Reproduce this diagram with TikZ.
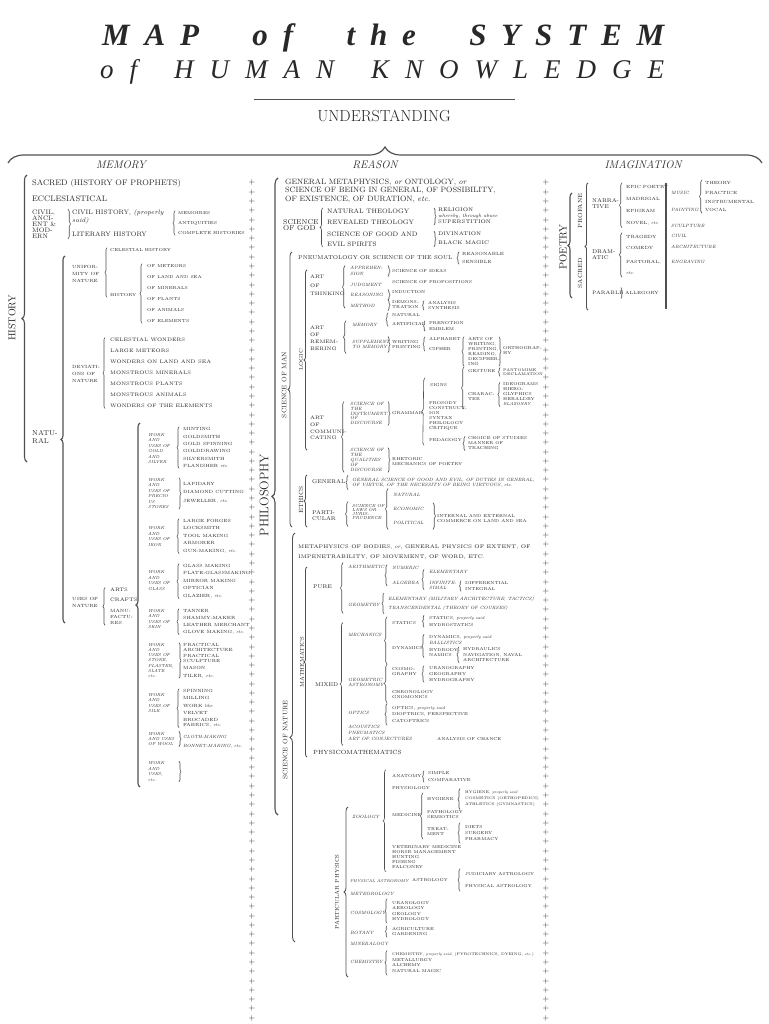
\documentclass[tikz,border=0pt]{standalone}
\usepackage{fontspec}
\usepackage{tikz}
\usetikzlibrary{decorations.pathreplacing}
\newfontfamily\ttlfont{Liberation Serif}
\definecolor{ink}{RGB}{40,40,40}
\definecolor{brgray}{RGB}{80,80,80}
\newcommand\lsp{\hskip 0pt plus 1fil\relax}
\newcommand\wsp{\hskip 0pt plus 3.6fil\relax}
\newcommand\wsq{\hskip 0pt plus 2.3fil\relax}

\tikzset{
  txt/.style={anchor=west, inner xsep=0pt, inner ysep=0.5pt, align=left, text=ink},
  brc/.style={draw=brgray, line width=0.6pt, decorate, decoration={brace, amplitude=#1}},
  brc/.default=2pt,
  bigbrc/.style={draw=brgray, line width=1.1pt, decorate, decoration={brace, amplitude=#1}},
  bigbrc/.default=5pt,
  vt/.style={rotate=90, inner sep=0pt, text=ink},
  crs/.style={inner sep=0pt, text=ink, font=\fontsize{8}{8}\selectfont},
  head/.style={inner sep=0pt, text=ink, font=\fontsize{11}{11}\selectfont\itshape\addfontfeature{LetterSpace=30}},
  % memory
  m1/.style={txt, font=\fontsize{8}{8.5}\selectfont\addfontfeature{LetterSpace=6}},
  m2/.style={txt, font=\fontsize{6.5}{6}\selectfont},
  mi/.style={txt, font=\fontsize{5}{6}\selectfont\addfontfeature{LetterSpace=15}},
  mt/.style={txt, font=\fontsize{4.3}{6}\selectfont\addfontfeature{LetterSpace=12}},
  sp/.style={txt, font=\fontsize{4.5}{5}\selectfont\addfontfeature{LetterSpace=10}},
  ms/.style={txt, font=\fontsize{4.5}{7}\selectfont},
  mw/.style={txt, font=\fontsize{4.3}{5.4}\selectfont\itshape},
  % reason
  r1/.style={txt, font=\fontsize{7.7}{8.5}\selectfont},
  r2/.style={txt, font=\fontsize{6.5}{9.5}\selectfont\addfontfeature{LetterSpace=20}},
  r3/.style={txt, font=\fontsize{5.2}{6}\selectfont},
  rl/.style={txt, font=\fontsize{5}{8.5}\selectfont},
  ri/.style={txt, font=\fontsize{4.2}{5}\selectfont},
  rit/.style={txt, font=\fontsize{4.6}{5}\selectfont\itshape},
  % imagination
  iit/.style={txt, font=\fontsize{4.6}{5}\selectfont\itshape}
}

\begin{document}
\begin{tikzpicture}[x=1pt, y=-1pt]
\useasboundingbox[fill=white] (0,0) rectangle (768,1024);

% title
\node[inner sep=0pt, anchor=base west, text=ink, font=\ttlfont\fontsize{31}{31}\selectfont\bfseries\itshape] (ttl) at (102,46)
  {\makebox[562pt][s]{M\lsp A\lsp P\wsp o\lsp f\wsp t\lsp h\lsp e\wsp S\lsp Y\lsp S\lsp T\lsp E\lsp M}};
\node[inner sep=0pt, anchor=base west, text=ink, font=\ttlfont\fontsize{27}{27}\selectfont\itshape] (sub) at (100,79)
  {\makebox[564pt][s]{o\lsp f\wsq H\lsp U\lsp M\lsp A\lsp N\wsq K\lsp N\lsp O\lsp W\lsp L\lsp E\lsp D\lsp G\lsp E}};
\coordinate (ruleL) at (254,99);
\coordinate (ruleR) at (515,99);
\draw[brgray, line width=0.8pt] (ruleL) -- (ruleR);
\node[inner sep=0pt, text=ink, font=\fontsize{16}{16}\selectfont\addfontfeature{LetterSpace=18}] (und) at (384,116) {UNDERSTANDING};
\coordinate (topL) at (8,163);
\coordinate (topR) at (762,163);
\draw[bigbrc=16pt, line width=1.2pt] (topL) -- (topR);
\node[head] (memh) at (121,165) {MEMORY};
\node[head] (reah) at (375,165) {REASON};
\node[head] (imah) at (643,165) {IMAGINATION};

% rows of crosses
\foreach \k in {0,...,90}{
  \node[crs] (xl\k) at (252,183+9.28*\k) {+};
  \node[crs] (xr\k) at (546,183+9.28*\k) {+};
}

% ---------------- memory
\node[vt, font=\fontsize{10}{10}\selectfont\addfontfeature{LetterSpace=10}] (hist) at (12,318) {HISTORY};
\coordinate (hisT) at (27,175);
\coordinate (hisB) at (27,462);
\draw[bigbrc=5pt] (hisB) -- (hisT);
\node[m1] (sacr) at (32,184) {SACRED (HISTORY OF PROPHETS)};
\node[m1] (eccl) at (32,199) {ECCLESIASTICAL};
\node[m2] (civ) at (32,224) {CIVIL,\\ANCI-\\ENT \&\\MOD-\\ERN};
\node[m2, font=\fontsize{6.5}{8}\selectfont] (chis) at (72,217) {CIVIL HISTORY, \textit{(properly}\\\textit{said)}};
\node[m2] (lith) at (72,234) {LITERARY HISTORY};
\draw[brc=2.5pt] ([xshift=-4pt]civ.north -| chis.west) -- ([xshift=-4pt]civ.south -| chis.west);
\node[mt] (memo) at (178,213) {MEMOIRES};
\node[mt] (anti) at (178,223) {ANTIQUITIES};
\node[mt] (cmph) at (178,233) {COMPLETE HISTORIES};
\draw[brc] ([xshift=-3pt]cmph.south west) -- ([xshift=-3pt]memo.north west);

\node[m2, font=\fontsize{7}{7.5}\selectfont] (natu) at (32,437) {NATU-\\RAL};
\coordinate (natT) at (65,256);
\coordinate (natB) at (65,623);
\draw[bigbrc=4pt] (natB) -- (natT);

\node[ms] (unif) at (72,274) {UNIFOR-\\MITY OF\\NATURE};
\node[mt] (celh) at (110,250) {CELESTIAL HISTORY};
\node[mt] (nhis) at (110,295) {HISTORY};
\draw[brc] ([xshift=-3pt]nhis.south west) -- ([xshift=-3pt]celh.north west);
\foreach \t [count=\i] in {OF METEORS, OF LAND AND SEA, OF MINERALS, OF PLANTS, OF ANIMALS, OF ELEMENTS}
  \node[mt] (of\i) at (147,255+11*\i) {\t};
\draw[brc] ([xshift=-5pt]of6.south west) -- ([xshift=-5pt]of1.north west);

\node[ms] (devi) at (72,374) {DEVIATI-\\ONS OF\\NATURE};
\foreach \t [count=\i] in {CELESTIAL WONDERS, LARGE METEORS, WONDERS ON LAND AND SEA, MONSTROUS MINERALS, MONSTROUS PLANTS, MONSTROUS ANIMALS, WONDERS OF THE ELEMENTS}
  \node[mi] (dv\i) at (110,329+11*\i) {\t};
\draw[brc] ([xshift=-5pt]dv7.south west) -- ([xshift=-5pt]dv1.north west);

\node[ms] (uses) at (72,602) {USES OF\\NATURE};
\node[mi] (arts) at (110,590) {ARTS};
\node[mi] (craf) at (110,600) {CRAFTS};
\node[ms, font=\fontsize{4.5}{6}\selectfont] (manu) at (110,617) {MANU-\\FACTU-\\RES};
\draw[brc] ([xshift=-5pt]manu.south west) -- ([xshift=-5pt]arts.north west);
\coordinate (wrkT) at (140,423);
\coordinate (wrkB) at (140,787);
\draw[bigbrc=4pt] (wrkB) -- (wrkT);

\node[mw] (wgol) at (148,448.5) {WORK\\AND\\USES OF\\GOLD\\AND\\SILVER};
\foreach \t/\y [count=\i] in {MINTING/429, GOLDSMITH/437, GOLD SPINNING/444, GOLDDRAWING/451, SILVERSMITH/459, PLANISHER \textit{etc.}/466}
  \node[sp] (go\i) at (183,\y) {\t};
\draw[brc] ([xshift=-4pt]go6.south west) -- ([xshift=-4pt]go1.north west);

\node[mw] (wpre) at (148,493.5) {WORK\\AND\\USES OF\\PRECIO\\US\\STONES};
\foreach \t/\y [count=\i] in {LAPIDARY/484, DIAMOND CUTTING/492, {JEWELLER, \textit{etc.}}/501}
  \node[sp] (pr\i) at (183,\y) {\t};
\draw[brc] ([xshift=-4pt]wpre.north -| pr1.west) -- ([xshift=-4pt]wpre.south -| pr1.west);

\node[mw] (wiro) at (148,536.5) {WORK\\AND\\USES OF\\IRON};
\foreach \t/\y [count=\i] in {LARGE FORGES/521, LOCKSMITH/528, TOOL MAKING/536, ARMORER/543, {GUN-MAKING, \textit{etc.}}/551}
  \node[sp] (ir\i) at (183,\y) {\t};
\draw[brc] ([xshift=-4pt]ir5.south west) -- ([xshift=-4pt]ir1.north west);

\node[mw] (wgla) at (148,580.5) {WORK\\AND\\USES OF\\GLASS};
\foreach \t/\y [count=\i] in {GLASS MAKING/566, PLATE-GLASSMAKING/573, MIRROR MAKING/581, OPTICIAN/588, {GLAZIER, \textit{etc.}}/596}
  \node[sp] (gl\i) at (183,\y) {\t};
\draw[brc] ([xshift=-4pt]gl5.south west) -- ([xshift=-4pt]gl1.north west);

\node[mw] (wski) at (148,619) {WORK\\AND\\USES OF\\SKIN};
\foreach \t/\y [count=\i] in {TANNER/611, SHAMMY-MAKER/618, LEATHER MERCHANT/625, {GLOVE MAKING, \textit{etc.}}/632}
  \node[sp] (sk\i) at (183,\y) {\t};
\draw[brc] ([xshift=-4pt]sk4.south west) -- ([xshift=-4pt]sk1.north west);

\node[mw, font=\fontsize{4.3}{5.2}\selectfont\itshape] (wsto) at (148,660.5) {WORK\\AND\\USES OF\\STONE,\\PLASTER,\\SLATE\\etc.};
\node[sp] (st1) at (183,647) {PRACTICAL\\ARCHITECTURE};
\node[sp] (st2) at (183,658.5) {PRACTICAL\\SCULPTURE};
\node[sp] (st3) at (183,668) {MASON};
\node[sp] (st4) at (183,676) {TILER, \textit{etc.}};
\draw[brc] ([xshift=-4pt]wsto.north -| st1.west) -- ([xshift=-4pt]wsto.south -| st1.west);

\node[mw] (wsil) at (148,703) {WORK\\AND\\USES OF\\SILK};
\foreach \t/\y [count=\i] in {SPINNING/691, MILLING/698, WORK \textit{like}/706, VELVET/713}
  \node[sp] (si\i) at (183,\y) {\t};
\node[sp] (si5) at (183,722.5) {BROCADED\\FABRICS, \textit{etc.}};
\draw[brc] ([xshift=-4pt]si5.south west) -- ([xshift=-4pt]si1.north west);

\node[mw] (wwoo) at (148,739) {WORK\\AND USES\\OF WOOL};
\node[sp, font=\fontsize{4.5}{5}\selectfont\itshape\addfontfeature{LetterSpace=8}] (wo1) at (183,737) {CLOTH-MAKING};
\node[sp, font=\fontsize{4.5}{5}\selectfont\itshape\addfontfeature{LetterSpace=8}] (wo2) at (183,746) {BONNET-MAKING, etc.};
\draw[brc] ([xshift=-4pt]wwoo.north -| wo1.west) -- ([xshift=-4pt]wwoo.south -| wo1.west);

\node[mw] (wetc) at (148,771.5) {WORK\\AND\\USES,\\etc.};
\draw[brc] ([xshift=-4pt]wetc.north -| go1.west) -- ([xshift=-4pt]wetc.south -| go1.west);

% ---------------- reason
\node[vt, font=\fontsize{12.5}{12.5}\selectfont\addfontfeature{LetterSpace=4}] (phil) at (264,495) {PHILOSOPHY};
\coordinate (phT) at (278,178);
\coordinate (phB) at (278,815);
\draw[bigbrc=6pt] (phB) -- (phT);
\node[r1] (gmet) at (285,190.5) {GENERAL METAPHYSICS, \textit{or} ONTOLOGY, \textit{or}\\SCIENCE OF BEING IN GENERAL, OF POSSIBILITY,\\OF EXISTENCE, OF DURATION, \textit{etc.}};

\node[r1, font=\fontsize{7}{6.5}\selectfont] (sgod) at (283,225) {SCIENCE\\OF GOD};
\node[r2] (nthe) at (327,211) {NATURAL THEOLOGY};
\node[r2] (rthe) at (327,222) {REVEALED THEOLOGY};
\node[r2] (sgev) at (327,239) {SCIENCE OF GOOD AND\\EVIL SPIRITS};
\draw[brc=3pt] ([xshift=-4pt]sgev.south west) -- ([xshift=-4pt]nthe.north west);
\node[r3] (reli) at (438,210) {RELIGION};
\node[r3, font=\fontsize{5}{5}\selectfont\itshape] (abus) at (438,216) {whereby, through abuse};
\node[r3] (supe) at (438,222) {SUPERSTITION};
\draw[brc] ([xshift=-4pt]nthe.north -| reli.west) -- ([xshift=-4pt]rthe.south -| reli.west);
\node[r3] (divi) at (438,234) {DIVINATION};
\node[r3] (blma) at (438,243) {BLACK MAGIC};
\draw[brc] ([xshift=-4pt]sgev.north -| divi.west) -- ([xshift=-4pt]sgev.south -| divi.west);

\node[vt, font=\fontsize{6.5}{6.5}\selectfont] (sman) at (284,385) {SCIENCE OF MAN};
\coordinate (smT) at (292,252);
\coordinate (smB) at (292,527);
\draw[bigbrc=4pt, line width=0.8pt] (smB) -- (smT);
\node[txt, font=\fontsize{5.6}{6}\selectfont] (pneu) at (298,258) {PNEUMATOLOGY OR SCIENCE OF THE SOUL};
\node[sp] (rsnb) at (462,254) {REASONABLE};
\node[sp] (snsb) at (462,262) {SENSIBLE};
\draw[brc] ([xshift=-3pt]snsb.south west) -- ([xshift=-3pt]rsnb.north west);

\node[vt, font=\fontsize{5.5}{5.5}\selectfont] (logi) at (301,360) {LOGIC};
\coordinate (lgT) at (307,270);
\coordinate (lgB) at (307,450);
\draw[bigbrc=3pt, line width=0.8pt] (lgB) -- (lgT);

\node[rl] (athk) at (310,285.5) {ART\\OF\\THINKING};
\node[rit, font=\fontsize{4.6}{6}\selectfont\itshape] (appr) at (350,271) {APPREHEN-\\SION};
\node[rit] (judg) at (350,285) {JUDGMENT};
\node[rit] (rsng) at (350,295) {REASONING};
\node[rit] (meth) at (350,306) {METHOD};
\draw[brc=2.5pt] ([xshift=-5pt]meth.south west) -- ([xshift=-5pt]appr.north west);
\node[ri] (sidea) at (392,271) {SCIENCE OF IDEAS};
\draw[brc] ([xshift=-4pt]appr.north -| sidea.west) -- ([xshift=-4pt]appr.south -| sidea.west);
\node[ri] (sprop) at (392,282) {SCIENCE OF PROPOSITIONS};
\node[ri] (indu) at (392,292) {INDUCTION};
\draw[brc] ([shift={(-4,-3)}]rsng.north -| indu.west) -- ([shift={(-4,3)}]rsng.south -| indu.west);
\node[ri] (demo) at (392,305) {DEMONS-\\TRATION};
\draw[brc] ([shift={(-4,-1)}]demo.north west) -- ([shift={(-4,1)}]demo.south west);
\node[ri] (anal) at (428,303) {ANALYSIS};
\node[ri] (synt) at (428,308) {SYNTHESIS};
\draw[brc=1.5pt] ([xshift=-4pt]synt.south west) -- ([xshift=-4pt]anal.north west);

\node[rl, font=\fontsize{5}{7}\selectfont] (arem) at (310,338.5) {ART\\OF\\REMEM-\\BERING};
\node[rit] (memr) at (352,325) {MEMORY};
\node[rit, font=\fontsize{4.6}{5.5}\selectfont\itshape] (supm) at (352,344.5) {SUPPLEMENT\\TO MEMORY};
\draw[brc=2.5pt] ([shift={(-6,4)}]supm.south west) -- ([shift={(-6,-2)}]memr.north west);
\node[ri] (natr) at (392,315) {NATURAL};
\node[ri] (artf) at (392,324) {ARTIFICIAL};
\draw[brc] ([xshift=-4pt]artf.south west) -- ([xshift=-4pt]natr.north west);
\node[ri] (pren) at (429,323) {PRENOTION};
\node[ri] (embl) at (429,329) {EMBLEM};
\draw[brc=1.5pt] ([xshift=-4pt]embl.south west) -- ([xshift=-4pt]pren.north west);
\node[ri] (wrpr) at (392,344.5) {WRITING\\PRINTING};
\draw[brc] ([shift={(-4,-3)}]supm.north -| wrpr.west) -- ([shift={(-4,3)}]supm.south -| wrpr.west);
\node[ri] (alph) at (429,339) {ALPHABET};
\node[ri] (ciph) at (429,349) {CIPHER};
\draw[brc] ([xshift=-4pt]ciph.south west) -- ([xshift=-4pt]alph.north west);
\node[ri] (awri) at (468,351.5) {ARTS OF\\WRITING,\\PRINTING,\\READING,\\DECIPHER-\\ING};
\draw[brc] ([xshift=-4pt]awri.south west) -- ([xshift=-4pt]awri.north west);
\node[ri] (orth) at (503,350.5) {ORTHOGRAP-\\HY};
\draw[brc] ([xshift=-4pt]awri.north -| orth.west) -- ([xshift=-4pt]awri.south -| orth.west);

\node[rl, font=\fontsize{5}{6.7}\selectfont] (acom) at (310,428) {ART\\OF\\COMMUNI-\\CATING};
\node[rit, font=\fontsize{4.6}{4.8}\selectfont\itshape] (sins) at (350,413.5) {SCIENCE OF\\THE\\INSTRUMENT\\OF\\DISCOURSE};
\node[rit] (squa) at (350,460) {SCIENCE OF\\THE\\QUALITIES\\OF\\DISCOURSE};
\draw[brc=2.5pt] ([xshift=-6pt]squa.south west) -- ([xshift=-6pt]sins.north west);
\node[ri] (gram) at (392,413) {GRAMMAR};
\draw[brc] ([xshift=-4pt]sins.north -| gram.west) -- ([xshift=-4pt]sins.south -| gram.west);
\node[ri] (sign) at (430,385) {SIGNS};
\node[ri] (pros) at (429,415.5) {PROSODY\\CONSTRUCT-\\ION\\SYNTAX\\PHILOLOGY\\CRITIQUE};
\node[ri] (peda) at (429,440) {PEDAGOGY};
\draw[brc=2.5pt] ([shift={(-5,3)}]peda.south west) -- ([shift={(-5,-5)}]sign.north west);
\node[ri] (gest) at (468,371) {GESTURE};
\node[ri] (chrc) at (468,396.5) {CHARAC-\\TER};
\draw[brc=2.5pt] ([shift={(-4,8)}]chrc.south west) -- ([shift={(-4,-2)}]gest.north west);
\node[ri, font=\fontsize{3.9}{4.6}\selectfont] (pant) at (503,372) {PANTOMIME\\DECLAMATION};
\draw[brc=1.5pt] ([xshift=-3pt]pant.south west) -- ([xshift=-3pt]pant.north west);
\node[ri] (ideo) at (503,394.5) {IDEOGRAMS\\HIERO-\\GLYPHICS\\HERALDRY\\\textit{BLAZONRY}};
\draw[brc] ([xshift=-3pt]ideo.south west) -- ([xshift=-3pt]ideo.north west);
\node[ri] (choi) at (468,443.5) {CHOICE OF STUDIES\\MANNER OF\\TEACHING};
\draw[brc] ([xshift=-3pt]choi.south west) -- ([xshift=-3pt]choi.north west);
\node[ri] (rhet) at (392,461.5) {RHETORIC\\MECHANICS OF POETRY};
\draw[brc] ([xshift=-4pt]squa.north -| rhet.west) -- ([xshift=-4pt]squa.south -| rhet.west);

\node[vt, font=\fontsize{6}{6}\selectfont] (ethi) at (301,500) {ETHICS};
\coordinate (etT) at (307,475);
\coordinate (etB) at (307,527);
\draw[bigbrc=3pt, line width=0.8pt] (etB) -- (etT);
\node[txt, font=\fontsize{5.5}{6}\selectfont] (gene) at (312,482) {GENERAL};
\node[rit] (gsci) at (352,482.5) {GENERAL SCIENCE OF GOOD AND EVIL, OF DUTIES IN GENERAL,\\OF VIRTUE, OF THE NECESSITY OF BEING VIRTUOUS, etc.};
\draw[brc] ([shift={(-4,2)}]gsci.south west) -- ([shift={(-4,-2)}]gsci.north west);
\node[txt, font=\fontsize{5.5}{6}\selectfont] (part) at (312,516) {PARTI-\\CULAR};
\node[rit, font=\fontsize{4.4}{4.2}\selectfont\itshape] (slaw) at (352,512) {SCIENCE OF\\LAWS OR\\JURIS-\\PRUDENCE};
\draw[brc=2.5pt] ([shift={(-4,6)}]slaw.south west) -- ([shift={(-4,-2)}]slaw.north west);
\node[rit] (natl) at (393,495) {NATURAL};
\node[rit] (econ) at (393,509) {ECONOMIC};
\node[rit] (poli) at (393,523) {POLITICAL};
\draw[brc=2.5pt] ([shift={(-5,4)}]poli.south west) -- ([shift={(-5,-4)}]natl.north west);
\node[ri] (comm) at (437,518.5) {INTERNAL AND EXTERNAL\\COMMERCE ON LAND AND SEA};
\draw[brc=2.5pt] ([shift={(-4,-4)}]econ.north -| comm.west) -- ([shift={(-4,4)}]poli.south -| comm.west);

\node[vt, font=\fontsize{6.5}{6.5}\selectfont] (snat) at (285,740) {SCIENCE OF NATURE};
\coordinate (snT) at (295,533);
\coordinate (snB) at (295,942);
\draw[bigbrc=5pt, line width=0.9pt] (snB) -- (snT);
\node[txt, font=\fontsize{5.2}{10}\selectfont] (mbod) at (298,552) {METAPHYSICS OF BODIES, \textit{or}, GENERAL PHYSICS OF EXTENT, OF\\IMPENETRABILITY, OF MOVEMENT, OF WORD, ETC.};

\node[vt, font=\fontsize{5.5}{5.5}\selectfont] (math) at (302,662) {MATHEMATICS};
\coordinate (maT) at (307,567);
\coordinate (maB) at (307,757);
\draw[bigbrc=3pt, line width=0.8pt] (maB) -- (maT);
\node[txt, font=\fontsize{5.5}{6}\selectfont] (pure) at (313,587) {PURE};
\node[rit] (arit) at (348,567) {ARITHMETIC};
\node[rit] (geom) at (348,605) {GEOMETRY};
\draw[brc=2.5pt] ([shift={(-5,6)}]geom.south west) -- ([shift={(-5,-2)}]arit.north west);
\node[rit] (nume) at (392,568) {NUMERIC};
\node[rit] (alge) at (392,582.5) {ALGEBRA};
\draw[brc] ([shift={(-5,1)}]alge.south west) -- ([shift={(-5,-1)}]nume.north west);
\node[rit] (elem) at (429,572) {ELEMENTARY};
\node[rit] (infi) at (429,585) {INFINITE-\\SIMAL};
\draw[brc] ([xshift=-5pt]infi.south west) -- ([xshift=-5pt]elem.north west);
\node[ri] (diff) at (465,583) {DIFFERENTIAL};
\node[ri] (inte) at (465,589) {INTEGRAL};
\draw[brc=1.5pt] ([xshift=-4pt]inte.south west) -- ([xshift=-4pt]diff.north west);
\node[rit] (gmil) at (388,599) {ELEMENTARY (MILITARY ARCHITECTURE, TACTICS)};
\node[rit] (gtra) at (388,608) {TRANSCENDENTAL (THEORY OF COURSES)};
\draw[brc] ([shift={(-4,3)}]gtra.south west) -- ([shift={(-4,-3)}]gmil.north west);

\node[txt, font=\fontsize{5.5}{6}\selectfont] (mixd) at (315,685) {MIXED};
\node[rit] (mech) at (348,635) {MECHANICS};
\node[rit] (gast) at (348,682.5) {GEOMETRIC\\ASTRONOMY};
\node[rit] (opti) at (348,713) {OPTICS};
\node[rit, font=\fontsize{4.6}{6}\selectfont\itshape] (acou) at (348,733) {ACOUSTICS\\PNEUMATICS\\ART OF CONJECTURES};
\draw[brc=3pt] ([shift={(-5,4)}]acou.south west) -- ([shift={(-5,-10)}]mech.north west);
\node[ri] (stat) at (392,623) {STATICS};
\node[ri] (dyna) at (392,648) {DYNAMICS};
\draw[brc=2.5pt] ([shift={(-5,14)}]dyna.south west) -- ([shift={(-5,-4)}]stat.north west);
\node[ri] (stps) at (429,618) {STATICS, \textit{properly said}};
\node[ri] (hyst) at (429,625) {HYDROSTATICS};
\draw[brc=1.5pt] ([xshift=-5pt]hyst.south west) -- ([xshift=-5pt]stps.north west);
\node[ri] (dyps) at (429,637) {DYNAMICS, \textit{properly said}};
\node[rit] (ball) at (429,643) {BALLISTICS};
\node[ri] (hydy) at (429,653) {HYDRODY-\\NAMICS};
\draw[brc] ([xshift=-5pt]hydy.south west) -- ([xshift=-5pt]dyps.north west);
\node[ri] (hydr) at (463,649) {HYDRAULICS};
\node[ri] (navi) at (463,658) {NAVIGATION, NAVAL\\ARCHITECTURE};
\draw[brc] ([xshift=-4pt]navi.south west) -- ([xshift=-4pt]hydr.north west);
\node[ri] (cosm) at (392,672) {COSMO-\\GRAPHY};
\node[ri] (chro) at (392,695) {CHRONOLOGY\\GNOMONICS};
\draw[brc=2.5pt] ([shift={(-5,3)}]chro.south west) -- ([shift={(-5,-3)}]cosm.north west);
\node[ri] (uran) at (429,668) {URANOGRAPHY};
\node[ri] (geog) at (429,674) {GEOGRAPHY};
\node[ri] (hydg) at (429,680) {HYDROGRAPHY};
\draw[brc] ([xshift=-5pt]hydg.south west) -- ([xshift=-5pt]uran.north west);
\node[ri] (opps) at (392,708) {OPTICS, \textit{properly said}};
\node[ri] (diop) at (392,714) {DIOPTRICS, PERSPECTIVE};
\node[ri] (cato) at (392,721) {CATOPTRICS};
\draw[brc] ([shift={(-5,2)}]cato.south west) -- ([shift={(-5,-2)}]opps.north west);
\node[ri] (anch) at (437,739) {ANALYSIS OF CHANCE};
\node[txt, font=\fontsize{6}{6}\selectfont] (phma) at (313,752) {PHYSICOMATHEMATICS};

\node[vt, font=\fontsize{5.5}{5.5}\selectfont] (pphy) at (337,892) {PARTICULAR PHYSICS};
\coordinate (ppT) at (348,807);
\coordinate (ppB) at (348,977);
\draw[bigbrc=4pt, line width=0.8pt] (ppB) -- (ppT);
\node[rit] (zool) at (352,817) {ZOOLOGY};
\node[ri] (anat) at (392,776) {ANATOMY};
\node[ri] (phsl) at (392,788) {PHYSIOLOGY};
\node[ri] (medi) at (392,815) {MEDICINE};
\node[ri] (vete) at (392,857.5) {VETERINARY MEDICINE\\HORSE MANAGEMENT\\HUNTING\\FISHING\\FALCONRY};
\draw[brc=3pt] ([shift={(-6,2)}]vete.south west) -- ([shift={(-6,-4)}]anat.north west);
\node[ri] (simp) at (428,773) {SIMPLE};
\node[ri] (cmpa) at (428,780) {COMPARATIVE};
\draw[brc=1.5pt] ([xshift=-4pt]cmpa.south west) -- ([xshift=-4pt]simp.north west);
\node[ri] (hygi) at (427,799) {HYGIENE};
\node[ri] (pato) at (427,814.5) {PATHOLOGY\\SEMIOTICS};
\node[ri] (trea) at (427,831.5) {TREAT-\\MENT};
\draw[brc=2.5pt] ([shift={(-4,3)}]trea.south west) -- ([shift={(-4,-4)}]hygi.north west);
\node[ri, font=\fontsize{3.8}{5}\selectfont] (hyps) at (465,793) {HYGIENE, \textit{properly said}};
\node[ri, font=\fontsize{3.8}{5}\selectfont] (csmt) at (465,799) {COSMETICS (ORTHOPEDICS)};
\node[ri, font=\fontsize{3.8}{5}\selectfont] (athl) at (465,805) {ATHLETICS (GYMNASTICS)};
\draw[brc] ([shift={(-5,2)}]athl.south west) -- ([shift={(-5,-2)}]hyps.north west);
\node[ri] (diet) at (465,827) {DIETS};
\node[ri] (surg) at (465,833) {SURGERY};
\node[ri] (phar) at (465,839) {PHARMACY};
\draw[brc] ([shift={(-5,2)}]phar.south west) -- ([shift={(-5,-2)}]diet.north west);
\node[rit, font=\fontsize{4.1}{5}\selectfont\itshape] (pasn) at (350,881) {PHYSICAL ASTRONOMY};
\node[ri] (astr) at (412,880) {ASTROLOGY};
\node[ri] (juda) at (465,874) {JUDICIARY ASTROLOGY};
\node[ri] (phya) at (465,886) {PHYSICAL ASTROLOGY};
\draw[brc] ([shift={(-5,3)}]phya.south west) -- ([shift={(-5,-3)}]juda.north west);
\node[rit] (mete) at (350,894) {METEOROLOGY};
\node[rit] (cosl) at (350,913) {COSMOLOGY};
\node[ri] (urlo) at (392,903) {URANOLOGY};
\node[ri] (aero) at (392,908) {AEROLOGY};
\node[ri] (geol) at (392,914) {GEOLOGY};
\node[ri] (hydl) at (392,919) {HYDROLOGY};
\draw[brc] ([shift={(-5,2)}]hydl.south west) -- ([shift={(-5,-2)}]urlo.north west);
\node[rit] (bota) at (350,933) {BOTANY};
\node[ri] (agri) at (392,929) {AGRICULTURE};
\node[ri] (gard) at (392,934) {GARDENING};
\draw[brc=1.5pt] ([shift={(-5,1)}]gard.south west) -- ([shift={(-5,-1)}]agri.north west);
\node[rit] (mine) at (350,944) {MINERALOGY};
\node[rit] (chem) at (350,962) {CHEMISTRY};
\node[ri, font=\fontsize{3.8}{5}\selectfont] (chps) at (392,955) {CHEMISTRY, \textit{properly said}, (PYROTECHNICS, DYEING, \textit{etc.})};
\node[ri] (mett) at (392,960) {METALLURGY};
\node[ri] (alch) at (392,965) {ALCHEMY};
\node[ri] (nmag) at (392,971) {NATURAL MAGIC};
\draw[brc] ([shift={(-5,2)}]nmag.south west) -- ([shift={(-5,-2)}]chps.north west);

% ---------------- imagination
\node[vt, font=\fontsize{10.5}{10.5}\selectfont\addfontfeature{LetterSpace=8}] (poet) at (563,247) {POETRY};
\coordinate (poT) at (572,193);
\coordinate (poB) at (572,298);
\draw[bigbrc=4pt] (poB) -- (poT);
\node[vt, font=\fontsize{6}{6}\selectfont] (prof) at (580,211) {PROFANE};
\node[vt, font=\fontsize{6}{6}\selectfont] (sacd) at (580,273) {SACRED};
\coordinate (psT) at (588,183);
\coordinate (psB) at (588,310);
\draw[bigbrc=3pt, line width=0.9pt] (psB) -- (psT);
\node[txt, font=\fontsize{5.5}{6}\selectfont] (narr) at (592,204) {NARRA-\\TIVE};
\foreach \t/\y [count=\i] in {EPIC POETRY/187, MADRIGAL/199, EPIGRAM/211, {NOVEL, \textit{etc.}}/223}
  \node[sp] (na\i) at (626,\y) {\t};
\draw[brc=2.5pt] ([shift={(-4,2)}]na4.south west) -- ([shift={(-4,-2)}]na1.north west);
\node[txt, font=\fontsize{5.5}{6}\selectfont] (dram) at (592,254.5) {DRAM-\\ATIC};
\foreach \t/\y [count=\i] in {TRAGEDY/237, COMEDY/248, {PASTORAL,}/262, \textit{etc.}/273}
  \node[sp] (dr\i) at (626,\y) {\t};
\draw[brc=2.5pt] ([shift={(-4,2)}]dr4.south west) -- ([shift={(-4,-2)}]dr1.north west);
\node[txt, font=\fontsize{4.9}{6}\selectfont] (parb) at (592,293) {PARABLE};
\node[sp] (alle) at (625,293) {ALLEGORY};
\draw[brc=1.5pt] ([shift={(-4,-3)}]parb.north -| alle.west) -- ([shift={(-4,3)}]parb.south -| alle.west);
\coordinate (vlT) at (666,183);
\coordinate (vlB) at (666,309);
\draw[brgray, line width=1.2pt] (vlT) -- (vlB);
\foreach \t/\y [count=\i] in {MUSIC/193, PAINTING/210, SCULPTURE/226, CIVIL/236, ARCHITECTURE/247, ENGRAVING/262}
  \node[iit] (ar\i) at (671,\y) {\t};
\foreach \t/\y [count=\i] in {THEORY/183, PRACTICE/193, INSTRUMENTAL/202, VOCAL/210}
  \node[sp] (mu\i) at (705,\y) {\t};
\draw[brc=2.5pt] ([shift={(-3,1)}]mu4.south west) -- ([shift={(-3,-1)}]mu1.north west);
\end{tikzpicture}
\end{document}
